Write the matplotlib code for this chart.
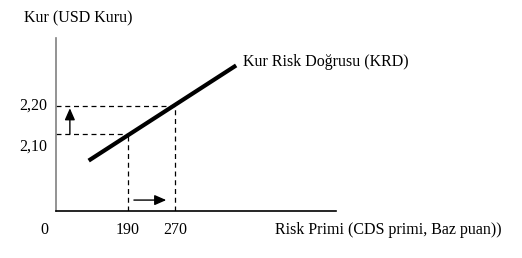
import matplotlib.pyplot as plt

# schematic values
x_ticks = [190, 270]
x_tick_labels = ["190", "270"]
y_ticks = [2.10, 2.20]
y_tick_labels = ["2,10", "2,20"]
krd_x = [123, 374]
krd_y = [2.005, 2.345]

plt.rcParams['font.family'] = ['Liberation Serif', 'DejaVu Serif']

fig = plt.figure(figsize=(5.22, 2.58), dpi=100)
ax = fig.add_axes([0.1073, 0.1822, 0.5364, 0.6705])
ax.set_xlim(67.4, 544)
ax.set_ylim(1.825, 2.443)

for s in ['top', 'right']:
    ax.spines[s].set_visible(False)
ax.spines['left'].set_color('#808080')
ax.spines['left'].set_linewidth(1.2)
ax.spines['bottom'].set_linewidth(1.2)
ax.set_xticks([])
ax.set_yticks([])

# kur risk dogrusu
ax.plot(krd_x, krd_y, color='black', lw=3, solid_capstyle='butt')

# dashed guides
for xv, yv in zip(x_ticks, y_ticks):
    ax.plot([67.4, xv], [yv, yv], color='black', lw=0.9, ls=(0, (4, 3)))
    ax.plot([xv, xv], [1.825, yv], color='black', lw=0.9, ls=(0, (4, 3)))

# arrows
arrow = dict(arrowstyle='-|>,head_length=0.5,head_width=0.22',
             color='black', lw=1, mutation_scale=14, shrinkA=0, shrinkB=0)
ax.annotate('', xy=(91, 2.192), xytext=(91, 2.10), arrowprops=arrow)
ax.annotate('', xy=(255, 1.864), xytext=(200, 1.864), arrowprops=arrow)

fs = 11.5
# tick labels
ax.text(-0.03, 2.20, y_tick_labels[1], transform=ax.get_yaxis_transform(),
        ha='right', va='center', fontsize=fs)
ax.text(-0.03, 2.055, y_tick_labels[0], transform=ax.get_yaxis_transform(),
        ha='right', va='center', fontsize=fs)
for xv, lab in zip(x_ticks, x_tick_labels):
    ax.text(xv, -0.11, lab, transform=ax.get_xaxis_transform(),
            ha='center', va='center', fontsize=fs)
ax.text(-0.04, -0.11, "0", transform=ax.transAxes, ha='center', va='center', fontsize=fs)

# titles
fig.text(24 / 522, 1 - 18 / 258, "Kur (USD Kuru)", ha='left', va='center', fontsize=fs)
fig.text(275 / 522, 1 - 230 / 258, "Risk Primi (CDS primi, Baz puan))",
         ha='left', va='center', fontsize=fs)
ax.text(385, 2.357, "Kur Risk Doğrusu (KRD)", ha='left', va='center', fontsize=fs)

fig.savefig('out.png', dpi=100)
